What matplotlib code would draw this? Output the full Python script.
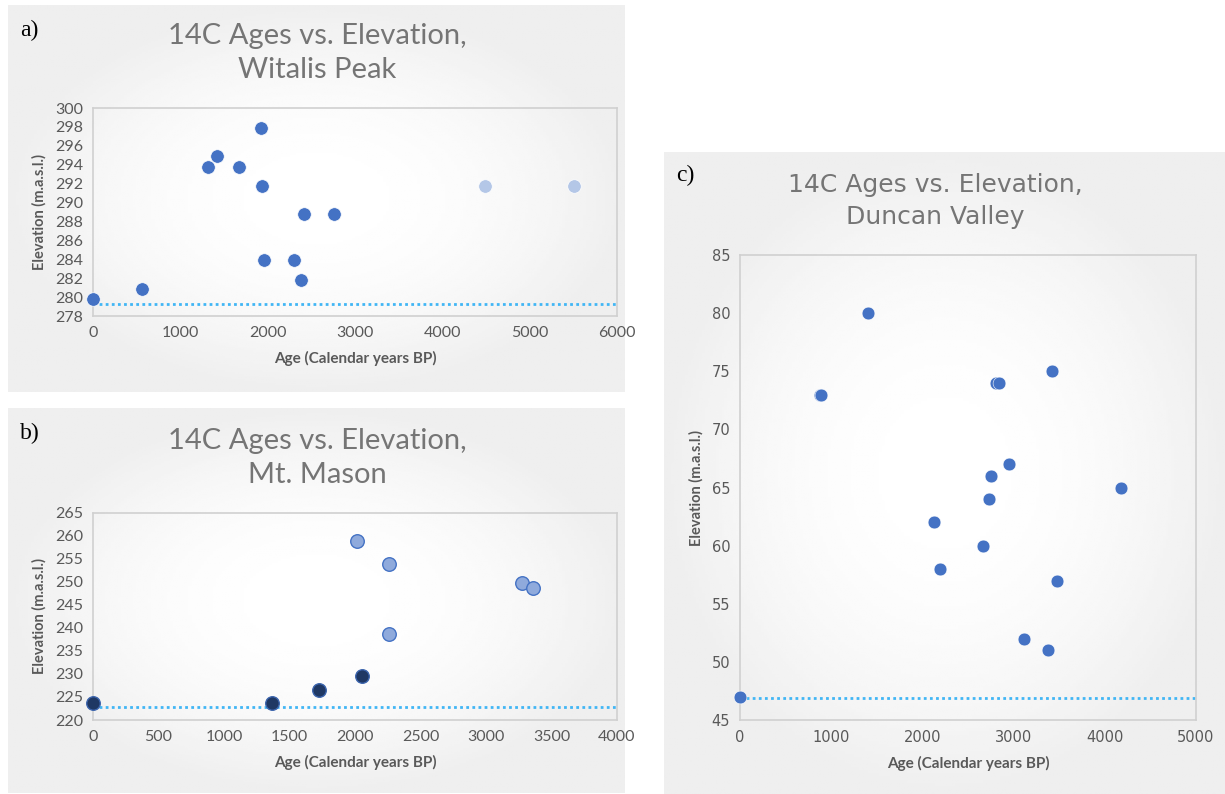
import numpy as np
import matplotlib
matplotlib.use("Agg")
import matplotlib.pyplot as plt

W, H = 1225, 794

# a) Witalis Peak
a_age = [0, 560, 1320, 1420, 1670, 1920, 1935, 1960, 2300, 2385, 2415, 2760]
a_elev = [279.8, 280.85, 293.8, 294.9, 293.8, 297.9, 291.8, 283.9, 283.9, 281.8, 288.8, 288.8]
a_age_old = [4490, 5510]
a_elev_old = [291.8, 291.8]
a_level = 279.25

# b) Mt. Mason
b_age_dark = [0, 1365, 1722, 2050]
b_elev_dark = [223.8, 223.8, 226.6, 229.6]
b_age_light = [2012, 2259, 2259, 3273, 3357]
b_elev_light = [258.9, 253.9, 238.8, 249.7, 248.7]
b_level = 222.9

# c) Duncan Valley
c_age = [0, 875, 890, 1408, 2126, 2194, 2660, 2727, 2751, 2805, 2845, 2953, 3115, 3375, 3419, 3478, 4182]
c_elev = [47.0, 73.0, 73.0, 80.0, 62.0, 58.0, 60.0, 64.0, 66.0, 74.0, 74.0, 67.0, 52.0, 51.0, 75.0, 57.0, 65.0]
c_level = 46.85

BLUE = "#4472c4"
LIGHT = "#b4c7e7"
DARK = "#1f3864"
MID = "#8faadc"
LINE = "#41b6f5"
TXT = "#595959"


def box(l, t, r, b):
    return [l / W, 1 - b / H, (r - l) / W, (b - t) / H]


def panel_bg(l, t, r, b):
    # soft radial shading like the original slide background
    bg = fig.add_axes(box(l, t, r, b), zorder=0)
    yy, xx = np.mgrid[-1:1:200j, -1:1:200j]
    shade = 1 - 0.065 * np.clip(np.sqrt(xx ** 2 + yy ** 2), 0, 1) ** 2
    bg.imshow(shade, cmap="gray", vmin=0, vmax=1, aspect="auto", extent=(0, 1, 0, 1))
    bg.axis("off")


def setup(ax, xlim, xstep, ylim, ystep, font, tsize):
    ax.set_facecolor("none")
    ax.set_xlim(*xlim)
    ax.set_ylim(*ylim)
    ax.set_xticks(np.arange(xlim[0], xlim[1] + 1, xstep))
    ax.set_yticks(np.arange(ylim[0], ylim[1] + 0.01, ystep))
    for s in ax.spines.values():
        s.set_color("#d0d0d0")
        s.set_linewidth(1.2)
    ax.tick_params(length=0, colors=TXT, labelsize=tsize, pad=7)
    for lab in ax.get_xticklabels() + ax.get_yticklabels():
        lab.set_fontfamily(font)
    ax.set_xlabel("Age (Calendar years BP)", fontsize=11, color=TXT,
                  fontweight="bold", family="Lato", labelpad=8)
    ax.set_ylabel("Elevation (m.a.s.l.)", fontsize=10.5, color=TXT,
                  fontweight="bold", family="Lato", labelpad=6)


fig = plt.figure(figsize=(W / 100, H / 100), dpi=100)
fig.patch.set_facecolor("white")

panel_bg(8, 5, 625, 392)
panel_bg(8, 408, 625, 793)
panel_bg(664, 152, 1225, 794)

# panel a
ax = fig.add_axes(box(93, 108, 617, 316), zorder=1)
setup(ax, (0, 6000), 1000, (278, 300), 2, "Lato", 11.5)
ax.hlines(a_level, 0, 6000, colors=LINE, linestyles=(0, (1, 1.2)), linewidth=2, zorder=2)
ax.scatter(a_age, a_elev, s=95, color=BLUE, edgecolors="white", linewidths=0.5, zorder=3, clip_on=False)
ax.scatter(a_age_old, a_elev_old, s=95, color=LIGHT, edgecolors="white", linewidths=0.5, zorder=3)
fig.text(317 / W, 1 - 53 / H, "14C Ages vs. Elevation,\nWitalis Peak", ha="center", va="center",
         fontsize=21, color="#757575", family="Lato", linespacing=1.4)
fig.text(20 / W, 1 - 30 / H, "a)", fontsize=17, family="Liberation Serif", va="center")

# panel b
ax = fig.add_axes(box(93, 513, 617, 720), zorder=1)
setup(ax, (0, 4000), 500, (220, 265), 5, "Lato", 11.5)
ax.hlines(b_level, 0, 4000, colors=LINE, linestyles=(0, (1, 1.2)), linewidth=2, zorder=2)
ax.scatter(b_age_dark, b_elev_dark, s=95, color=DARK, edgecolors="#3b64ad", linewidths=1, zorder=3, clip_on=False)
ax.scatter(b_age_light, b_elev_light, s=95, color=MID, edgecolors=BLUE, linewidths=1, zorder=3)
fig.text(317 / W, 1 - 458 / H, "14C Ages vs. Elevation,\nMt. Mason", ha="center", va="center",
         fontsize=21, color="#757575", family="Lato", linespacing=1.4)
fig.text(20 / W, 1 - 433 / H, "b)", fontsize=17, family="Liberation Serif", va="center")

# panel c
ax = fig.add_axes(box(740, 255, 1196, 720), zorder=1)
setup(ax, (0, 5000), 1000, (45, 85), 5, "DejaVu Sans", 10.5)
ax.hlines(c_level, 0, 5000, colors=LINE, linestyles=(0, (1, 1.2)), linewidth=2, zorder=2)
ax.scatter(c_age, c_elev, s=85, color=BLUE, edgecolors="white", linewidths=0.4, zorder=3, clip_on=False)
fig.text(935 / W, 1 - 201 / H, "14C Ages vs. Elevation,\nDuncan Valley", ha="center", va="center",
         fontsize=18, color="#757575", family="DejaVu Sans", linespacing=1.45)
fig.text(676 / W, 1 - 175 / H, "c)", fontsize=17, family="Liberation Serif", va="center")

fig.savefig("out.png", dpi=100, facecolor="white")
